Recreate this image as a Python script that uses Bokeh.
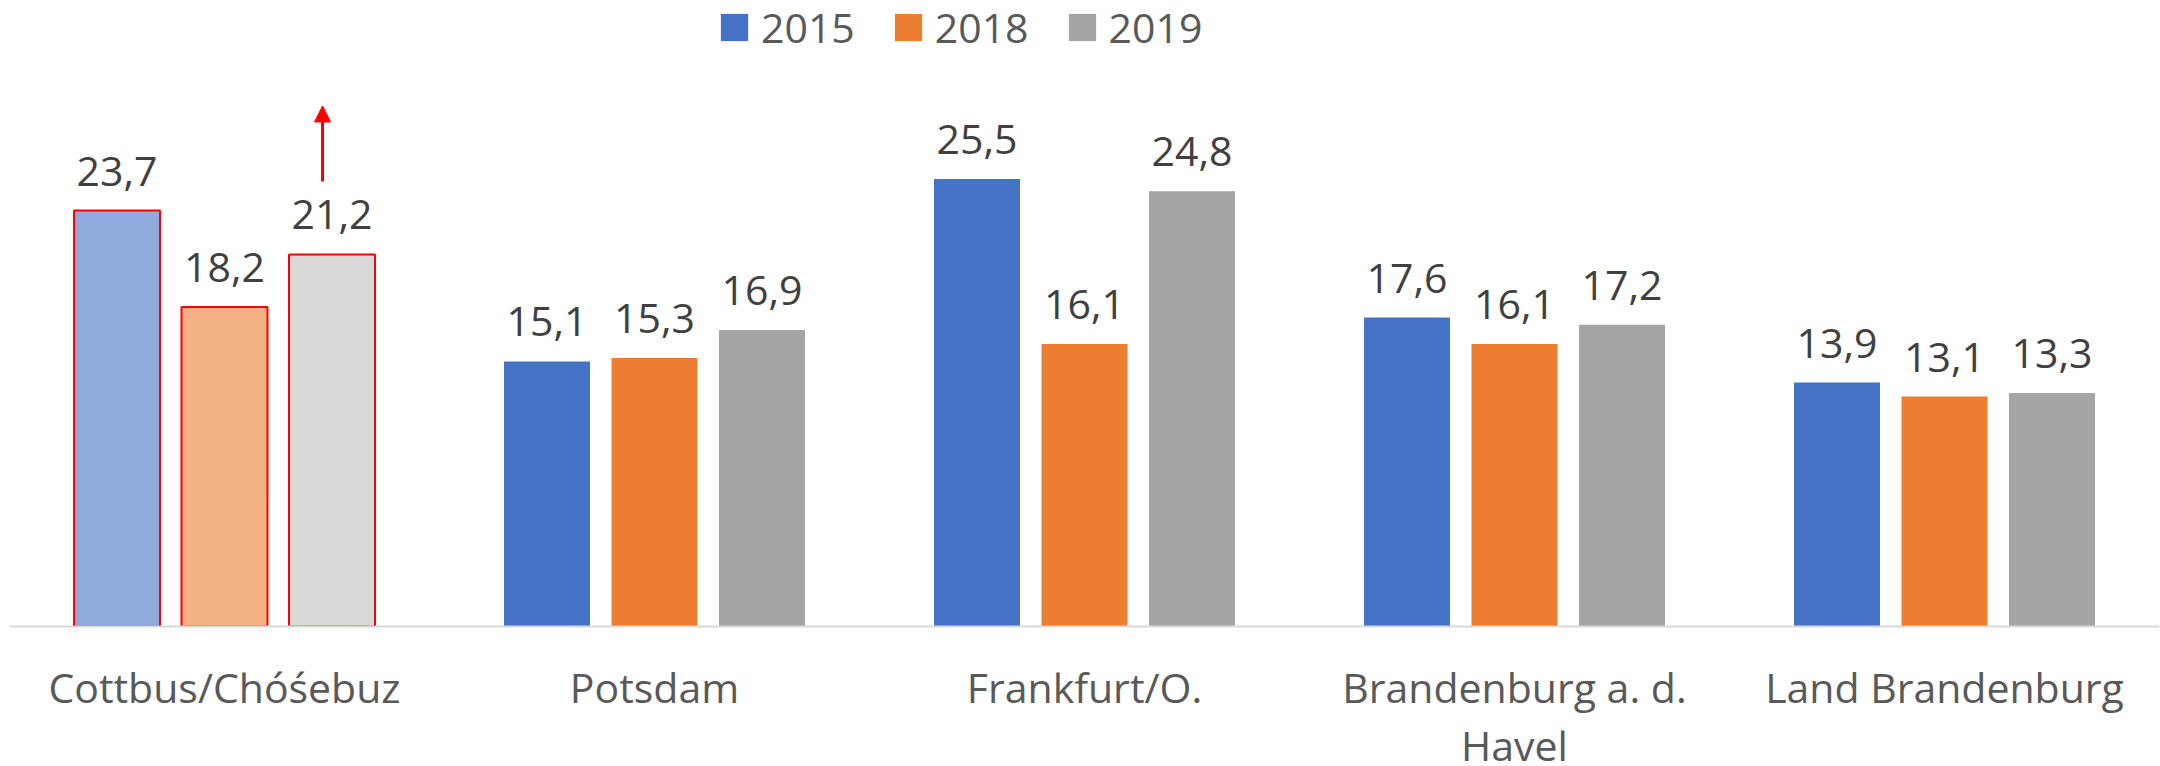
from bokeh.plotting import figure
from bokeh.models import (ColumnDataSource, FactorRange, Range1d, Legend, LegendItem,
                          LabelSet, Arrow, NormalHead)
from bokeh.transform import dodge
from bokeh.core.properties import value
from bokeh.embed import file_html
from bokeh.resources import INLINE

# ---------------- data ----------------
cities = ["Cottbus/Chóśebuz", "Potsdam", "Frankfurt/O.", "Brandenburg a. d.\nHavel", "Land Brandenburg"]
years = ["2015", "2018", "2019"]
v2015 = [23.7, 15.1, 25.5, 17.6, 13.9]
v2018 = [18.2, 15.3, 16.1, 16.1, 13.1]
v2019 = [21.2, 16.9, 24.8, 17.2, 13.3]
highlight = "Cottbus/Chóśebuz"

# ---------------- styles ----------------
FONT = "Open Sans"
base_colors = {"2015": "#4472C4", "2018": "#ED7D31", "2019": "#A5A5A5"}
light_colors = {"2015": "#8FAADC", "2018": "#F4B183", "2019": "#D9D9D9"}
offsets = {"2015": -0.25, "2018": 0.0, "2019": 0.25}
BAR_W = 0.2
FRAME_H = 626
Y_MAX = FRAME_H / 17.55   # same vertical scale as the original chart

p = figure(x_range=FactorRange(*cities, range_padding=0, factor_padding=0),
           y_range=Range1d(0, Y_MAX),
           frame_width=2150, frame_height=FRAME_H,
           min_border_top=0, min_border_left=9, min_border_right=1, min_border_bottom=0,
           output_backend="svg", toolbar_location=None, y_axis_location=None,
           background_fill_color="white", border_fill_color="white")
p.outline_line_color = None
p.grid.visible = False

series = {"2015": v2015, "2018": v2018, "2019": v2019}
items = []
for yr in years:
    vals = series[yr]
    src = ColumnDataSource(dict(
        x=cities,
        top=vals,
        label=[f"{v:.1f}".replace(".", ",") for v in vals],
        fill=[light_colors[yr] if c == highlight else base_colors[yr] for c in cities],
        line=["#FF0000" if c == highlight else base_colors[yr] for c in cities],
        lalpha=[1.0 if c == highlight else 0.0 for c in cities],
    ))
    r = p.vbar(x=dodge("x", offsets[yr], range=p.x_range), top="top", width=BAR_W, bottom=0,
               source=src, fill_color="fill", line_color="line", line_alpha="lalpha", line_width=2)
    items.append(LegendItem(label=yr, renderers=[r], index=1))
    labels = LabelSet(x=dodge("x", offsets[yr], range=p.x_range), y="top", text="label",
                      source=src, text_align="center", text_baseline="alphabetic",
                      y_offset=25, text_font=value(FONT), text_font_size="41px",
                      text_color="#404040")
    p.add_layout(labels)

# red arrow over Cottbus 2019
hi = cities.index(highlight)
p.add_layout(Arrow(end=NormalHead(size=16, fill_color="#FF0000", line_color="#FF0000", line_width=1),
                   x_start=hi + 0.728, y_start=25.35, x_end=hi + 0.728, y_end=29.66,
                   line_color="#FF0000", line_width=3))

legend = Legend(items=items, orientation="horizontal", location=(708, 571),
                glyph_width=34, glyph_height=34, label_standoff=10, spacing=36,
                padding=0, margin=0, border_line_color=None, background_fill_alpha=0,
                label_text_font=FONT, label_text_font_size="41px", label_text_color="#595959")
p.add_layout(legend, "center")

ax = p.xaxis[0]
ax.axis_line_color = "#D9D9D9"
ax.axis_line_width = 2
ax.major_tick_line_color = None
ax.minor_tick_line_color = None
ax.major_tick_out = 0
ax.major_tick_in = 0
ax.major_label_standoff = 32
ax.major_label_text_font = FONT
ax.major_label_text_font_size = "41px"
ax.major_label_text_color = "#595959"
ax.major_label_text_line_height = 1.04

open("out.html", "w").write(file_html(p, INLINE))
